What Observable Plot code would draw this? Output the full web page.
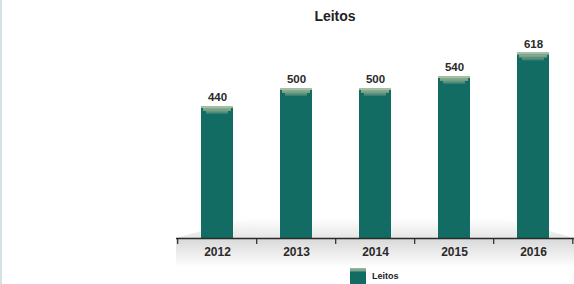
<!DOCTYPE html>
<html>
<head>
<meta charset="utf-8">
<script src="https://cdn.jsdelivr.net/npm/d3@7"></script>
<script src="https://cdn.jsdelivr.net/npm/@observablehq/plot@0.6"></script>
<style>
  body { margin: 0; background: #fff; font-family: "Liberation Sans", Arial, sans-serif; }
  #wrap { position: relative; width: 574px; height: 284px; overflow: hidden; }
  #edge { position: absolute; left: 0; top: 0; width: 2px; height: 284px; background: #d3e3e5; }
  #floor { position: absolute; left: 176px; top: 218px; width: 398px; height: 20px;
           background: linear-gradient(to bottom, rgba(255,255,255,0), #e6e6e6);
           clip-path: polygon(0 100%, 18% 0, 82% 0, 100% 100%); }
  #under { position: absolute; left: 176px; top: 239px; width: 398px; height: 28px;
           background: linear-gradient(to bottom, #d9d9d9, #ffffff); }
  #title { position: absolute; left: 0; width: 670px; top: 8px; text-align: center;
           font-weight: bold; font-size: 14px; color: #222; }
  #legend { position: absolute; left: 350px; top: 268px; display: flex; align-items: center;
            font-weight: bold; font-size: 9px; color: #222; }
  #legend .sw { width: 16px; height: 16px; margin-right: 6px;
                background: linear-gradient(to bottom, #9ab79a 0, #7aa088 3px, #126c64 4px, #126c64 100%); }
  #chart { position: absolute; left: 0; top: 0; }
</style>
</head>
<body>
<div id="wrap">
  <div id="edge"></div>
  <div id="floor"></div>
  <div id="under"></div>
  <div id="chart"></div>
  <div id="title">Leitos</div>
  <div id="legend"><div class="sw"></div><span>Leitos</span></div>
</div>
<script>
const years = ["2012", "2013", "2014", "2015", "2016"];
const leitos = [440, 500, 500, 540, 618];
const seriesName = "Leitos";

const data = years.map((y, i) => ({year: y, value: leitos[i]}));

const chart = Plot.plot({
  width: 574,
  height: 284,
  marginLeft: 176,
  marginRight: 0,
  marginTop: 28,
  marginBottom: 46,
  style: {background: "transparent", fontFamily: "Liberation Sans, Arial, sans-serif"},
  x: {domain: years, paddingInner: 0.6, paddingOuter: 0.3, axis: null},
  y: {domain: [0, 700], axis: null},
  marks: [
    Plot.barY(data, {x: "year", y: "value", fill: "#126c64"}),
    // top cap (stepped trapezoid)
    Plot.barY(data, {x: "year", y1: "value", y2: "value", insetBottom: -2, fill: "#a3bea0"}),
    Plot.barY(data, {x: "year", y1: "value", y2: "value", insetTop: 2, insetBottom: -5, insetLeft: 2, insetRight: 2, fill: "url(#capGrad)"}),
    Plot.barY(data, {x: "year", y1: "value", y2: "value", insetTop: 5, insetBottom: -8, insetLeft: 5, insetRight: 5, fill: "url(#capGrad2)"}),
    Plot.ruleY([0], {stroke: "#2a2a2a", strokeWidth: 1.5}),
    Plot.ruleX(data, {x: "year", y1: 0, y2: 0, insetBottom: -6, dx: -39.8, stroke: "#2a2a2a", strokeWidth: 1.2}),
    Plot.ruleX([data[data.length - 1]], {x: "year", y1: 0, y2: 0, insetBottom: -6, dx: 39.3, stroke: "#2a2a2a", strokeWidth: 1.2}),
    Plot.text(data, {x: "year", y: "value", text: d => String(d.value), dy: -9, fontWeight: "bold", fontSize: 11.5, fill: "#2a2a2a"}),
    Plot.text(data, {x: "year", y: 0, text: "year", dy: 14, fontWeight: "bold", fontSize: 12, fill: "#2a2a2a"})
  ]
});

const svg = d3.select(chart);
const defs = svg.insert("defs", ":first-child");
const g = defs.append("linearGradient").attr("id", "capGrad").attr("x1", 0).attr("y1", 0).attr("x2", 0).attr("y2", 1);
g.append("stop").attr("offset", "0%").attr("stop-color", "#8fae90");
g.append("stop").attr("offset", "100%").attr("stop-color", "#6f9a84");
const g2 = defs.append("linearGradient").attr("id", "capGrad2").attr("x1", 0).attr("y1", 0).attr("x2", 0).attr("y2", 1);
g2.append("stop").attr("offset", "0%").attr("stop-color", "#6f9a84");
g2.append("stop").attr("offset", "100%").attr("stop-color", "#2c7a6b");

document.getElementById("chart").appendChild(chart);
</script>
</body>
</html>
